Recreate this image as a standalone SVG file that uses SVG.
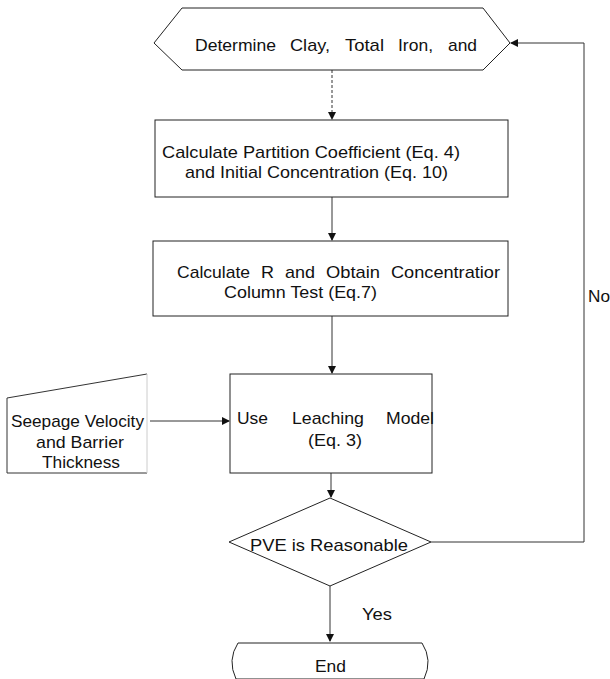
<svg xmlns="http://www.w3.org/2000/svg" width="610" height="679" viewBox="0 0 610 679">
<style>
.s{fill:#fff;stroke:#222;stroke-width:1}
.t{font-family:"Liberation Sans",Arial,sans-serif;font-size:17px;fill:#111}
.c{fill:none;stroke:#333;stroke-width:1}
</style>
<defs>
<marker id="a" markerWidth="8" markerHeight="8" refX="7" refY="4" orient="auto" markerUnits="userSpaceOnUse">
<path d="M0,0 L8,4 L0,8 Z" fill="#111"/>
</marker>
</defs>
<rect width="610" height="679" fill="#fff"/>
<g id="connectors">
<line class="c" x1="332" y1="70" x2="332" y2="119" stroke-dasharray="3,2" marker-end="url(#a)"/>
<line class="c" x1="332" y1="197" x2="332" y2="240" marker-end="url(#a)"/>
<line class="c" x1="332" y1="316" x2="332" y2="373" marker-end="url(#a)"/>
<line class="c" x1="150" y1="421" x2="229" y2="421" marker-end="url(#a)"/>
<line class="c" x1="331" y1="473" x2="331" y2="497" marker-end="url(#a)"/>
<line class="c" x1="330" y1="586" x2="330" y2="641" marker-end="url(#a)"/>
<polyline class="c" points="431,542 584,542 584,43 511,43" marker-end="url(#a)"/>
<text class="t" x="588" y="302" textLength="22" lengthAdjust="spacingAndGlyphs">No</text>
<text class="t" x="362" y="620" textLength="30" lengthAdjust="spacingAndGlyphs">Yes</text>
</g>
<g id="n1">
<polygon class="s" points="154,43 182,8 483,8 510,43 483,70 182,70"/>
<text class="t" x="195" y="51" textLength="81" lengthAdjust="spacingAndGlyphs">Determine</text>
<text class="t" x="290" y="51" textLength="40" lengthAdjust="spacingAndGlyphs">Clay,</text>
<text class="t" x="345" y="51" textLength="39" lengthAdjust="spacingAndGlyphs">Total</text>
<text class="t" x="398" y="51" textLength="35" lengthAdjust="spacingAndGlyphs">Iron,</text>
<text class="t" x="448" y="51" textLength="29" lengthAdjust="spacingAndGlyphs">and</text>
</g>
<g id="n2">
<rect class="s" x="155" y="120" width="353" height="77"/>
<text class="t" x="162" y="158" textLength="298" lengthAdjust="spacingAndGlyphs">Calculate Partition Coefficient (Eq. 4)</text>
<text class="t" x="185" y="178" textLength="263" lengthAdjust="spacingAndGlyphs">and Initial Concentration (Eq. 10)</text>
</g>
<g id="n3">
<rect class="s" x="153" y="241" width="355" height="75"/>
<text class="t" x="177" y="278" textLength="73" lengthAdjust="spacingAndGlyphs">Calculate</text>
<text class="t" x="261" y="278" textLength="13" lengthAdjust="spacingAndGlyphs">R</text>
<text class="t" x="285" y="278" textLength="30" lengthAdjust="spacingAndGlyphs">and</text>
<text class="t" x="326" y="278" textLength="54" lengthAdjust="spacingAndGlyphs">Obtain</text>
<text class="t" x="391" y="278" textLength="109" lengthAdjust="spacingAndGlyphs">Concentratior</text>
<text class="t" x="224" y="298" textLength="153" lengthAdjust="spacingAndGlyphs">Column Test (Eq.7)</text>
</g>
<g id="n4">
<polygon points="7,398 147,374 147,473 7,473" fill="#fff" stroke="none"/>
<polyline class="c" points="147,374 7,398 7,473 147,473" stroke="#222"/>
<line x1="147" y1="374" x2="147" y2="473" stroke="#ccc" stroke-width="1"/>
<text class="t" x="11" y="427" textLength="133" lengthAdjust="spacingAndGlyphs">Seepage Velocity</text>
<text class="t" x="80" y="448" text-anchor="middle" textLength="88" lengthAdjust="spacingAndGlyphs">and Barrier</text>
<text class="t" x="81" y="468" text-anchor="middle" textLength="78" lengthAdjust="spacingAndGlyphs">Thickness</text>
</g>
<g id="n5">
<rect class="s" x="230" y="374" width="202" height="99"/>
<text class="t" x="237" y="424" textLength="31" lengthAdjust="spacingAndGlyphs">Use</text>
<text class="t" x="292" y="424" textLength="72" lengthAdjust="spacingAndGlyphs">Leaching</text>
<text class="t" x="386" y="424" textLength="48" lengthAdjust="spacingAndGlyphs">Model</text>
<text class="t" x="308" y="446" textLength="54" lengthAdjust="spacingAndGlyphs">(Eq. 3)</text>
</g>
<g id="n6">
<polygon class="s" points="330,498 431,542 330,586 229,542"/>
<text class="t" x="250" y="551" textLength="158" lengthAdjust="spacingAndGlyphs">PVE is Reasonable</text>
</g>
<g id="n7">
<path class="s" d="M238,643 L422,643 Q433,660 424,679 L236,679 Q227,660 238,643 Z"/>
<text class="t" x="315" y="672" textLength="31" lengthAdjust="spacingAndGlyphs">End</text>
</g>
</svg>
